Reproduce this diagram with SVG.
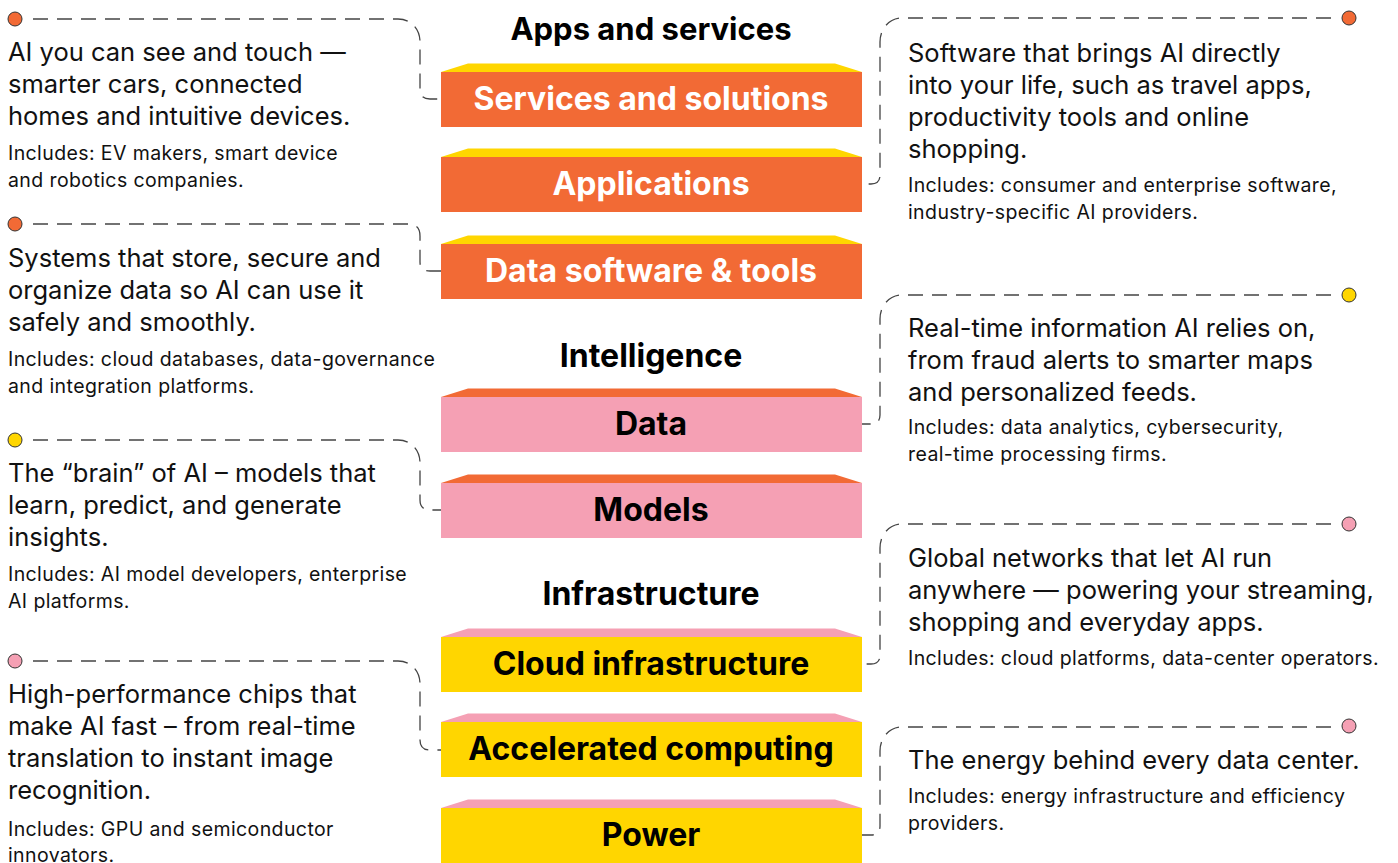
<svg xmlns="http://www.w3.org/2000/svg" width="1398" height="863" viewBox="0 0 1398 863">
<style>
.bg{fill:#ffffff}
.head{font-family:Inter,"Liberation Sans",sans-serif;font-weight:700;font-size:32px;fill:#000;text-anchor:middle}
.lbl{font-family:Inter,"Liberation Sans",sans-serif;font-weight:700;font-size:32px;text-anchor:middle}
.w{fill:#ffffff}
.k{fill:#000000}
.big{font-family:Inter,"Liberation Sans",sans-serif;font-size:25.5px;fill:#111}
.sm{font-family:Inter,"Liberation Sans",sans-serif;font-size:19.5px;letter-spacing:0.4px;fill:#111}
.orange{fill:#F26A35}
.pink{fill:#F5A0B4}
.yellow{fill:#FFD600}
.dot{stroke:#333;stroke-width:1}
.conn{fill:none;stroke:#444;stroke-width:1.3;stroke-dasharray:15 9}
</style>
<rect class="bg" x="0" y="0" width="1398" height="863"/>

<g id="connectors">
<path class="conn" d="M33 19 H398 C410 19 420 28 420 42 V90 Q420 99 430 99 H441"/>
<path class="conn" d="M33 224 H408 Q420 224 420 236 V262 Q420 271 430 271 H441"/>
<path class="conn" d="M33 440 H398 C410 440 420 449 420 463 V500 Q420 510 430 510 H441"/>
<path class="conn" d="M33 661 H398 C410 661 420 670 420 684 V740 Q420 750 430 750 H441"/>
<path class="conn" d="M1331 18 H902 C890 18 880 28 880 42 V175 Q880 184 871 184 H862"/>
<path class="conn" d="M1331 295 H902 C890 295 880 305 880 319 V415 Q880 424 871 424 H862"/>
<path class="conn" d="M1331 524 H902 C890 524 880 534 880 548 V655 Q880 664 871 664 H862"/>
<path class="conn" d="M1331 727 H902 C890 727 880 737 880 751 V826 Q880 835 871 835 H862"/>
</g>

<g id="heading-apps"><text class="head" x="651" y="40" style="font-size:31px">Apps and services</text></g>
<g id="heading-intelligence"><text class="head" x="651" y="367">Intelligence</text></g>
<g id="heading-infrastructure"><text class="head" x="651" y="605">Infrastructure</text></g>

<g id="layer-services">
<polygon class="yellow" points="441,72 468,63.5 835,63.5 862,72"/>
<rect class="orange" x="441" y="72" width="421" height="55"/>
<text class="lbl w" x="651" y="110">Services and solutions</text>
</g>
<g id="layer-applications">
<polygon class="yellow" points="441,157 468,148.5 835,148.5 862,157"/>
<rect class="orange" x="441" y="157" width="421" height="55"/>
<text class="lbl w" x="651" y="195">Applications</text>
</g>
<g id="layer-data-software">
<polygon class="yellow" points="441,244 468,235.5 835,235.5 862,244"/>
<rect class="orange" x="441" y="244" width="421" height="55"/>
<text class="lbl w" x="651" y="282">Data software &amp; tools</text>
</g>
<g id="layer-data">
<polygon class="orange" points="441,397 468,388.5 835,388.5 862,397"/>
<rect class="pink" x="441" y="397" width="421" height="55"/>
<text class="lbl k" x="651" y="435">Data</text>
</g>
<g id="layer-models">
<polygon class="orange" points="441,483 468,474.5 835,474.5 862,483"/>
<rect class="pink" x="441" y="483" width="421" height="55"/>
<text class="lbl k" x="651" y="521">Models</text>
</g>
<g id="layer-cloud">
<polygon class="pink" points="441,637 468,628.5 835,628.5 862,637"/>
<rect class="yellow" x="441" y="637" width="421" height="55"/>
<text class="lbl k" x="651" y="675">Cloud infrastructure</text>
</g>
<g id="layer-accelerated">
<polygon class="pink" points="441,722 468,713.5 835,713.5 862,722"/>
<rect class="yellow" x="441" y="722" width="421" height="55"/>
<text class="lbl k" x="651" y="760">Accelerated computing</text>
</g>
<g id="layer-power">
<polygon class="pink" points="441,808 468,799.5 835,799.5 862,808"/>
<rect class="yellow" x="441" y="808" width="421" height="55"/>
<text class="lbl k" x="651" y="846">Power</text>
</g>

<g id="note-services">
<circle class="dot orange" cx="15" cy="19" r="7"/>
<text class="big" x="8" y="61">AI you can see and touch —</text>
<text class="big" x="8" y="93">smarter cars, connected</text>
<text class="big" x="8" y="125">homes and intuitive devices.</text>
<text class="sm" x="8" y="160">Includes: EV makers, smart device</text>
<text class="sm" x="8" y="187">and robotics companies.</text>
</g>
<g id="note-data-software">
<circle class="dot orange" cx="15" cy="224" r="7"/>
<text class="big" x="8" y="267">Systems that store, secure and</text>
<text class="big" x="8" y="299">organize data so AI can use it</text>
<text class="big" x="8" y="331">safely and smoothly.</text>
<text class="sm" x="8" y="366">Includes: cloud databases, data-governance</text>
<text class="sm" x="8" y="393">and integration platforms.</text>
</g>
<g id="note-models">
<circle class="dot yellow" cx="15" cy="440" r="7"/>
<text class="big" x="8" y="482">The “brain” of AI – models that</text>
<text class="big" x="8" y="514">learn, predict, and generate</text>
<text class="big" x="8" y="546">insights.</text>
<text class="sm" x="8" y="581">Includes: AI model developers, enterprise</text>
<text class="sm" x="8" y="608">AI platforms.</text>
</g>
<g id="note-accelerated">
<circle class="dot pink" cx="15" cy="661" r="7"/>
<text class="big" x="8" y="703">High-performance chips that</text>
<text class="big" x="8" y="735">make AI fast – from real-time</text>
<text class="big" x="8" y="767">translation to instant image</text>
<text class="big" x="8" y="799">recognition.</text>
<text class="sm" x="8" y="836">Includes: GPU and semiconductor</text>
<text class="sm" x="8" y="862">innovators.</text>
</g>

<g id="note-applications">
<circle class="dot orange" cx="1349" cy="18" r="7"/>
<text class="big" x="908" y="62">Software that brings AI directly</text>
<text class="big" x="908" y="94">into your life, such as travel apps,</text>
<text class="big" x="908" y="126">productivity tools and online</text>
<text class="big" x="908" y="158">shopping.</text>
<text class="sm" x="908" y="192">Includes: consumer and enterprise software,</text>
<text class="sm" x="908" y="219">industry-specific AI providers.</text>
</g>
<g id="note-data">
<circle class="dot yellow" cx="1349" cy="295" r="7"/>
<text class="big" x="908" y="337">Real-time information AI relies on,</text>
<text class="big" x="908" y="369">from fraud alerts to smarter maps</text>
<text class="big" x="908" y="401">and personalized feeds.</text>
<text class="sm" x="908" y="434">Includes: data analytics, cybersecurity,</text>
<text class="sm" x="908" y="461">real-time processing firms.</text>
</g>
<g id="note-cloud">
<circle class="dot pink" cx="1349" cy="524" r="7"/>
<text class="big" x="908" y="567">Global networks that let AI run</text>
<text class="big" x="908" y="599">anywhere — powering your streaming,</text>
<text class="big" x="908" y="631">shopping and everyday apps.</text>
<text class="sm" x="908" y="665">Includes: cloud platforms, data-center operators.</text>
</g>
<g id="note-power">
<circle class="dot pink" cx="1349" cy="726" r="7"/>
<text class="big" x="908" y="769">The energy behind every data center.</text>
<text class="sm" x="908" y="803">Includes: energy infrastructure and efficiency</text>
<text class="sm" x="908" y="830">providers.</text>
</g>
</svg>
